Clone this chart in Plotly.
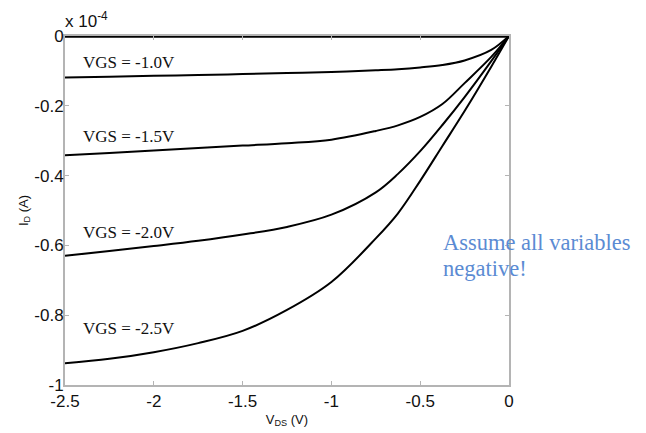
import plotly.graph_objects as go

# Data (I_D in units of 1e-4 A)
vds = [-2.5, -2.25, -2.0, -1.75, -1.5, -1.25, -1.0, -0.75, -0.625, -0.5, -0.375, -0.25, -0.1, 0.0]
id_vgs_05 = [0, 0, 0, 0, 0, 0, 0, 0, 0, 0, 0, 0, 0, 0]
id_vgs_10 = [-0.119, -0.117, -0.114, -0.112, -0.109, -0.106, -0.103, -0.098, -0.095, -0.090, -0.083, -0.070, -0.040, 0.0]
id_vgs_15 = [-0.342, -0.335, -0.328, -0.321, -0.314, -0.307, -0.297, -0.272, -0.256, -0.232, -0.195, -0.135, -0.060, 0.0]
id_vgs_20 = [-0.630, -0.616, -0.602, -0.587, -0.569, -0.547, -0.512, -0.448, -0.395, -0.330, -0.255, -0.175, -0.072, 0.0]
id_vgs_25 = [-0.938, -0.925, -0.906, -0.880, -0.845, -0.785, -0.705, -0.580, -0.508, -0.415, -0.315, -0.215, -0.088, 0.0]

labels = ["VGS = -1.0V", "VGS = -1.5V", "VGS = -2.0V", "VGS = -2.5V"]
label_y = [-0.077, -0.289, -0.564, -0.837]

x_ticks = [-2.5, -2, -1.5, -1, -0.5, 0]
x_tick_text = ["-2.5", "-2", "-1.5", "-1", "-0.5", "0"]
y_ticks = [-1, -0.8, -0.6, -0.4, -0.2, 0]
y_tick_text = ["-1", "-0.8", "-0.6", "-0.4", "-0.2", "0"]

fig = go.Figure()
for ys in [id_vgs_10, id_vgs_15, id_vgs_20, id_vgs_25]:
    fig.add_trace(go.Scatter(x=vds, y=ys, mode="lines",
                             line=dict(color="black", width=2, shape="spline", smoothing=1.0),
                             showlegend=False, hoverinfo="skip"))
fig.add_trace(go.Scatter(x=vds, y=id_vgs_05, mode="lines",
                         line=dict(color="black", width=3.5),
                         showlegend=False, hoverinfo="skip", cliponaxis=False))

for t, yv in zip(labels, label_y):
    fig.add_annotation(x=-2.41, y=yv, text=t, showarrow=False, xanchor="left", yanchor="middle",
                       font=dict(family="Liberation Serif", size=17, color="#111"))

fig.add_annotation(xref="paper", yref="paper", x=-0.005, y=1.008, text="x 10<sup>-4</sup>",
                   showarrow=False, xanchor="left", yanchor="bottom",
                   font=dict(family="Liberation Sans", size=17, color="#111"))

note_font = dict(family="Liberation Serif", size=22.5, color="#5b8bd3")
fig.add_annotation(xref="paper", yref="paper", x=0.846, y=0.407, text="Assume all variables",
                   showarrow=False, xanchor="left", yanchor="middle", font=note_font)
fig.add_annotation(xref="paper", yref="paper", x=0.846, y=0.335, text="negative!",
                   showarrow=False, xanchor="left", yanchor="middle", font=note_font)

axis_common = dict(showgrid=False, zeroline=False, showline=True, linecolor="#b4b4b4", linewidth=2,
                   mirror="ticks", ticks="inside", ticklen=4, tickcolor="#b4b4b4", automargin=False,
                   tickfont=dict(family="Liberation Sans", size=17, color="#111"))

fig.update_xaxes(range=[-2.5, 0], tickvals=x_ticks, ticktext=x_tick_text,
                 title=dict(text="V<sub>DS</sub> (V)", font=dict(family="Liberation Sans", size=13, color="#111"),
                            standoff=4),
                 **axis_common)
fig.update_yaxes(range=[-1, 0], tickvals=y_ticks, ticktext=y_tick_text, ticklabelstandoff=-4,
                 title=dict(text="I<sub>D</sub> (A)", font=dict(family="Liberation Sans", size=13, color="#111"),
                            standoff=3),
                 **axis_common)

# page body has an 8px margin; figure sized so the plot area lands where the reference has it
fig.update_layout(width=638, height=425, autosize=False,
                  margin=dict(l=57, r=137, t=28, b=48),
                  plot_bgcolor="white", paper_bgcolor="white")

fig.write_html("out.html")
